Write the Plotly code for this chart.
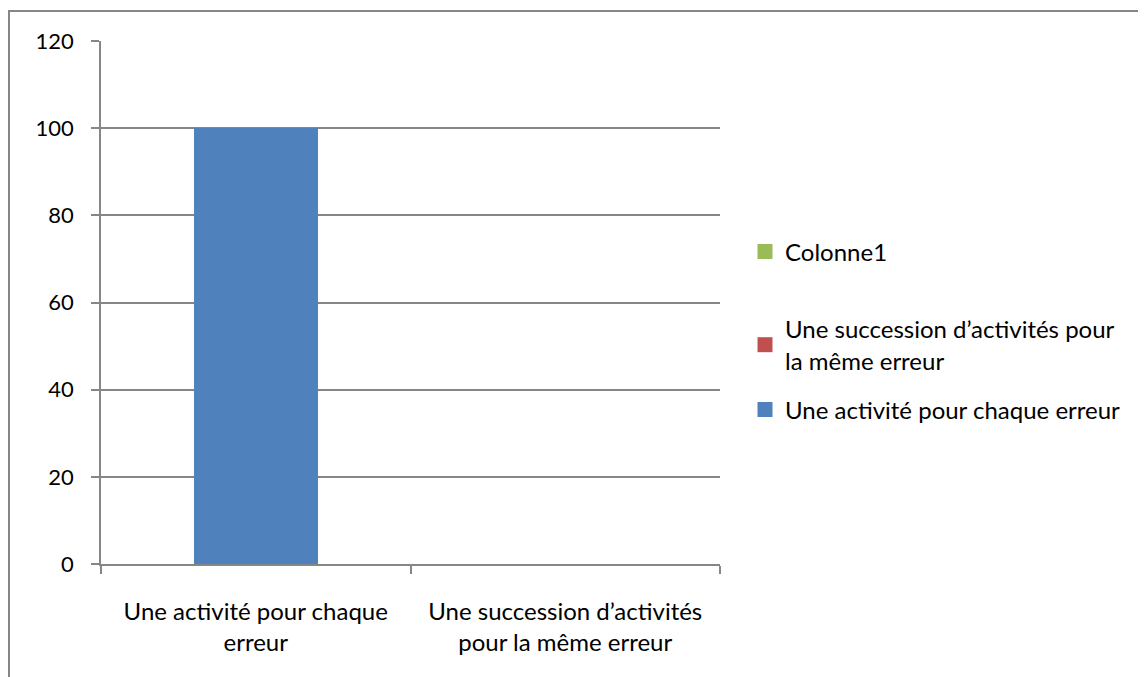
import plotly.graph_objects as go

# categories and series
categories = ["Une activité pour chaque<br>erreur", "Une succession d’activités<br>pour la même erreur"]
serie_activite = [100, 0]
serie_succession = [0, 0]
serie_colonne1 = [0, 0]

names = [
    "Une activité pour chaque erreur",
    "Une succession d’activités pour<br>la même erreur",
    "Colonne1",
]
colors = ["#4F81BD", "#C0504D", "#9BBB59"]

# page body has an 8px margin, so screen positions are shifted by OFF
OFF = 8
W, H = 1146, 677
px0, px1, py0, py1 = 101, 720, 41, 564   # plot area on screen
L, T = px0 - OFF, py0 - OFF
R, B = W - (px1 - OFF), H - (py1 - OFF)
pw, ph = px1 - px0, py1 - py0

def px_x(x):
    return (x - px0) / pw

def px_y(y):
    return (py1 - y) / ph

FONT = "Lato"
grey = "#868686"

fig = go.Figure()
series = [serie_activite, serie_succession, serie_colonne1]
legends = ["legend", "legend2", "legend3"]
for vals, name, col, lg in zip(series, names, colors, legends):
    fig.add_trace(go.Bar(x=categories, y=vals, name=name, marker_color=col,
                         marker_line_width=0, showlegend=False, legendgroup=name))
    # legend entry only (bigger square swatch like the original)
    fig.add_trace(go.Scatter(x=[None], y=[None], mode="markers", name=name,
                             marker=dict(symbol="square", size=15, color=col),
                             legend=lg, legendgroup=name, showlegend=True))

leg_style = dict(xanchor="left", yanchor="middle", bgcolor="rgba(0,0,0,0)",
                 font=dict(family=FONT, size=24, color="black"),
                 itemwidth=30)

fig.update_layout(
    width=W, height=H,
    margin=dict(l=L, r=R, t=T, b=B, pad=0),
    paper_bgcolor="white", plot_bgcolor="white",
    showlegend=True,
    barmode="stack", bargap=0.6,
    font=dict(family=FONT, size=24, color="black"),
    legend=dict(x=px_x(745), y=px_y(410), **leg_style),
    legend2=dict(x=px_x(745), y=px_y(345), **leg_style),
    legend3=dict(x=px_x(745), y=px_y(252), **leg_style),
    xaxis=dict(showline=True, linecolor=grey, linewidth=1.5, ticks="outside",
               tickson="boundaries", ticklen=8, tickcolor=grey, tickwidth=1.5,
               showgrid=False, ticklabelstandoff=25,
               tickfont=dict(family=FONT, size=24)),
    yaxis=dict(range=[0, 120], dtick=20, showline=True, linecolor=grey, linewidth=1.5,
               ticks="outside", ticklen=8, tickcolor=grey, tickwidth=1.5,
               showgrid=True, gridcolor=grey, gridwidth=1.5, zeroline=False,
               ticklabelstandoff=13,
               tickfont=dict(family=FONT, size=22)),
    shapes=[dict(type="rect", xref="paper", yref="paper",
                 x0=px_x(OFF + 1), x1=px_x(W + 40), y0=px_y(H + 40), y1=px_y(11),
                 line=dict(color=grey, width=2), fillcolor="rgba(0,0,0,0)", layer="below")],
)

fig.write_html("out.html")
